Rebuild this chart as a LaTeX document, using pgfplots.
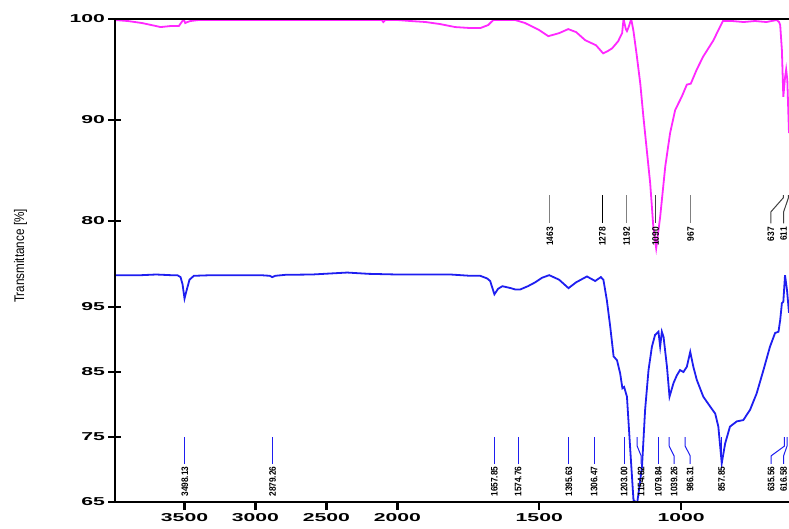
\documentclass[border=0pt]{standalone}
\usepackage{pgfplots}
\pgfplotsset{compat=1.18}
\usepackage{pgfplotstable}
\usepackage{fontspec}
\setmainfont{Liberation Sans}
\newfontfamily\tickfont{Liberation Sans Bold}[FakeStretch=1.85]
\newfontfamily\peakfont{Liberation Sans Bold}[FakeStretch=0.88]
\newfontfamily\labfont{Liberation Sans}[FakeStretch=0.84]
\definecolor{pinkc}{RGB}{255,40,255}
\definecolor{bluec}{RGB}{30,30,240}

\pgfplotstableread{
w v
3990 99.9
3900 99.8
3800 99.6
3700 99.3
3669 99.2
3600 99.3
3540 99.3
3515 99.8
3507 100.0
3495 99.6
3480 99.7
3458 99.8
3400 99.9
3200 99.9
3000 99.9
2800 99.9
2500 99.9
2200 99.9
2110 99.9
2099 99.7
2085 99.9
2000 99.9
1954 99.8
1900 99.7
1850 99.5
1796 99.2
1740 99.1
1708 99.1
1680 99.4
1662 99.9
1585 99.9
1550 99.6
1500 98.9
1468 98.3
1430 98.6
1398 99.0
1370 98.7
1338 97.9
1300 97.4
1275 96.6
1260 96.8
1243 97.1
1222 97.8
1208 98.6
1203 100.0
1195 99.0
1191 98.8
1185 99.2
1176 100.0
1168 98.8
1156 96.3
1144 93.6
1133 90.3
1121 87.0
1109 83.7
1098 79.4
1088 77.3
1074 80.4
1056 85.4
1039 88.7
1021 91.0
998 92.3
980 93.5
966 93.6
945 95.0
922 96.3
886 97.9
869 98.9
853 99.8
820 99.8
780 99.7
740 99.8
700 99.7
663 99.9
655 99.7
651 99.4
645 96.9
640 92.3
634 94.2
630 95.0
626 94.0
620 88.7
}\uppertab

\pgfplotstableread{
w v
3990 99.9
3800 99.9
3700 100.0
3600 99.9
3551 99.9
3528 99.6
3514 98.5
3500 96.3
3486 97.5
3465 99.2
3434 99.8
3300 99.9
3100 99.9
2965 99.9
2900 99.8
2882 99.6
2860 99.8
2789 99.95
2600 100.0
2354 100.3
2200 100.1
2000 100.0
1813 100.0
1743 99.8
1708 99.8
1684 99.4
1673 99.0
1658 96.95
1645 97.8
1630 98.2
1600 97.9
1585 97.7
1567 97.7
1540 98.2
1514 98.8
1490 99.5
1465 99.9
1430 99.2
1397 97.9
1370 98.8
1332 99.7
1303 99.0
1283 99.6
1274 99.2
1262 96.1
1250 92.0
1238 87.4
1226 86.8
1215 84.8
1207 82.5
1201 82.7
1191 81.2
1180 73.5
1168 65.3
1155 64.8
1138 70.4
1127 79.2
1115 85.3
1103 88.9
1092 90.7
1080 91.2
1074 88.9
1068 91.2
1062 90.4
1050 85.8
1041 81.2
1027 83.3
1015 84.5
1004 85.3
992 85.0
980 85.8
968 88.1
957 85.8
945 83.8
922 81.2
898 79.7
880 78.6
869 76.6
857 70.95
845 74.0
828 76.6
804 77.4
781 77.6
757 79.2
734 81.7
710 85.3
687 88.9
669 91.0
657 91.2
651 93.0
645 95.6
640 95.8
634 99.9
627 97.6
620 94.1
}\lowertab

\pgfplotsset{
  common/.style={
    scale only axis, width=674bp, height=483bp,
    xmin=620, xmax=3990, x dir=reverse,
    x coord trafo/.code={\pgfmathparse{##1>2000 ? 2000+(##1-2000)/2 : ##1}},
    tick align=outside,
  },
  yside/.style={
    axis y line=left, y axis line style={-, line width=2.4bp, black},
    major tick length=13bp,
    ytick style={line width=1.6bp, black},
    yticklabel style={font=\tickfont\fontsize{11.5}{12}\selectfont, text=black},
  },
}

\begin{document}
\begin{tikzpicture}
% upper spectrum
\begin{axis}[common, yside, ymin=52.18, ymax=100, hide x axis,
  ytick={80,90,100}, yticklabels={80,90,100}]
\addplot[pinkc, line width=1.8bp] table[x=w,y=v] {\uppertab};
\draw[gray, line width=1bp] (axis cs:1463,82.57) -- (axis cs:1463,79.77);
\draw[black, line width=1bp] (axis cs:1278,82.57) -- (axis cs:1278,79.77);
\draw[gray, line width=1bp] (axis cs:1192,82.57) -- (axis cs:1192,79.77);
\draw[darkgray, line width=1bp] (axis cs:1090,82.57) -- (axis cs:1090,79.77);
\draw[gray, line width=1bp] (axis cs:967,82.57) -- (axis cs:967,79.77);
\draw[darkgray, line width=1bp] (axis cs:640,82.57) -- (axis cs:640,82.3) -- (axis cs:684,80.9) -- (axis cs:684,79.77);
\draw[darkgray, line width=1bp] (axis cs:622,82.57) -- (axis cs:622,82.3) -- (axis cs:639,80.9) -- (axis cs:639,79.77);
\begin{scope}[every node/.style={rotate=90, anchor=east, inner sep=0pt, font=\peakfont\fontsize{9.5}{10}\selectfont}]
\node at (axis cs:1463,79.4) {1463};
\node at (axis cs:1278,79.4) {1278};
\node at (axis cs:1192,79.4) {1192};
\node at (axis cs:1090,79.4) {1090};
\node at (axis cs:967,79.4) {967};
\node at (axis cs:684,79.4) {637};
\node at (axis cs:639,79.4) {611};
\end{scope}
\end{axis}
% lower spectrum
\begin{axis}[common, yside, ymin=65, ymax=139.31, hide x axis,
  ytick={65,75,85,95}, yticklabels={65,75,85,95}]
\addplot[bluec, line width=1.8bp] table[x=w,y=v] {\lowertab};
\begin{scope}[bluec, line width=1bp]
\draw (axis cs:3498.13,75) -- (axis cs:3498.13,70.85);
\draw (axis cs:2879.26,75) -- (axis cs:2879.26,70.85);
\draw (axis cs:1657.85,75) -- (axis cs:1657.85,70.85);
\draw (axis cs:1574.76,75) -- (axis cs:1574.76,70.85);
\draw (axis cs:1395.63,75) -- (axis cs:1395.63,70.85);
\draw (axis cs:1306.47,75) -- (axis cs:1306.47,70.85);
\draw (axis cs:1201,75) -- (axis cs:1201,70.85);
\draw (axis cs:1080,75) -- (axis cs:1080,70.85);
\draw (axis cs:857.85,75) -- (axis cs:857.85,70.85);
\draw (axis cs:627,75) -- (axis cs:627,73.6) -- (axis cs:639,72.1) -- (axis cs:639,70.85);
\draw (axis cs:1155,75) -- (axis cs:1155,73.6) -- (axis cs:1141,72.1) -- (axis cs:1141,70.85);
\draw (axis cs:1042,75) -- (axis cs:1042,73.6) -- (axis cs:1025,72.1) -- (axis cs:1025,70.85);
\draw (axis cs:986,75) -- (axis cs:986,73.6) -- (axis cs:968,72.1) -- (axis cs:968,70.85);
\draw (axis cs:636,75) -- (axis cs:636,73.6) -- (axis cs:683,72.1) -- (axis cs:683,70.85);
\end{scope}
\begin{scope}[every node/.style={rotate=90, anchor=east, inner sep=0pt, font=\peakfont\fontsize{9.5}{10}\selectfont}]
\node at (axis cs:3498.13,70.5) {3498.13};
\node at (axis cs:2879.26,70.5) {2879.26};
\node at (axis cs:1657.85,70.5) {1657.85};
\node at (axis cs:1574.76,70.5) {1574.76};
\node at (axis cs:1395.63,70.5) {1395.63};
\node at (axis cs:1306.47,70.5) {1306.47};
\node at (axis cs:1201,70.5) {1203.00};
\node at (axis cs:1141,70.5) {1154.82};
\node at (axis cs:1080,70.5) {1079.84};
\node at (axis cs:1025,70.5) {1039.26};
\node at (axis cs:968,70.5) {986.31};
\node at (axis cs:857.85,70.5) {857.85};
\node at (axis cs:683,70.5) {635.56};
\node at (axis cs:639,70.5) {616.58};
\end{scope}
\end{axis}
% frame and x axis
\begin{axis}[common, ymin=0, ymax=1,
  axis x line=box, axis y line=left,
  axis line style={-, line width=2.4bp, black},
  ytick=\empty,
  xtick={3500,3000,2500,2000,1500,1000},
  xticklabels={3500,3000,2500,2000,1500,1000},
  xtick pos=bottom, major tick length=8bp,
  xtick style={line width=2.4bp, black},
  xticklabel style={font=\tickfont\fontsize{11.5}{12}\selectfont, text=black}]
\end{axis}
\node[rotate=90, font=\labfont\fontsize{14}{15}\selectfont] at (-94.5bp,246bp) {Transmittance [\%]};
\pgfresetboundingbox
\path[use as bounding box] (-115bp,-26.5bp) rectangle (674bp,502bp);
\end{tikzpicture}
\end{document}
